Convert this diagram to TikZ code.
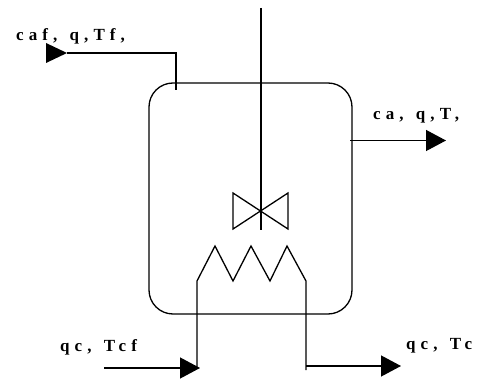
\documentclass[tikz,border=0pt]{standalone}
\usepackage{fontspec}
\setmainfont[LetterSpace=30,WordSpace=1.3]{Liberation Serif}
\usetikzlibrary{arrows.meta}
\tikzset{
  x=1pt,y=-1pt,
  wire/.style={line width=1.3pt,black},
  flow/.style={wire,-{Triangle[length=20pt,width=21pt]}},
  label/.style={anchor=base west,inner sep=0pt,font=\bfseries\fontsize{17}{19}\selectfont}
}
\begin{document}
\begin{tikzpicture}
\useasboundingbox (0,0) rectangle (485,382);
% labels
\node[label] (lf) at (16,41) {caf, q,Tf,};
\node[label] (lo) at (373,120) {ca, q,T,};
\node[label] (lci) at (60,352) {qc, Tcf};
\node[label] (lco) at (406,349) {qc, Tc};
% key points
\coordinate (feedS) at (46,53);
\coordinate (feedT) at (176,53);
\coordinate (feedE) at (176,90);
\coordinate (outS) at (350,140.5);
\coordinate (outE) at (446,140.5);
\coordinate (shaftT) at (261,8);
\coordinate (shaftB) at (261,230);
\coordinate (cL) at (197,281);
\coordinate (cR) at (306,281);
\coordinate (cLb) at (197,368);
\coordinate (inS) at (104,368);
\coordinate (inE) at (200,368);
\coordinate (cRb) at (306,370);
\coordinate (cRo) at (306,366);
\coordinate (coE) at (401,366);
% vessel
\draw[wire,rounded corners=24pt] (149,83) rectangle (352,314);
% stirrer
\draw[wire] (shaftT) -- (shaftB);
\draw[wire] (260.5,211) -- (233,193) -- (233,229) -- (288,193) -- (288,229) -- cycle;
% coil
\draw[wire] (cLb) -- (cL) -- (215,246) -- (233,281) -- (251,246) -- (270,281) -- (287,246) -- (cR) -- (cRb);
% streams
\draw[wire] (feedE) -- (feedT) -- (67,53);
\fill (46,43) -- (67,53) -- (46,63) -- cycle;
\draw[flow] (outS) -- (outE);
\draw[flow] (inS) -- (inE);
\draw[flow] (cRo) -- (coE);
\end{tikzpicture}
\end{document}
